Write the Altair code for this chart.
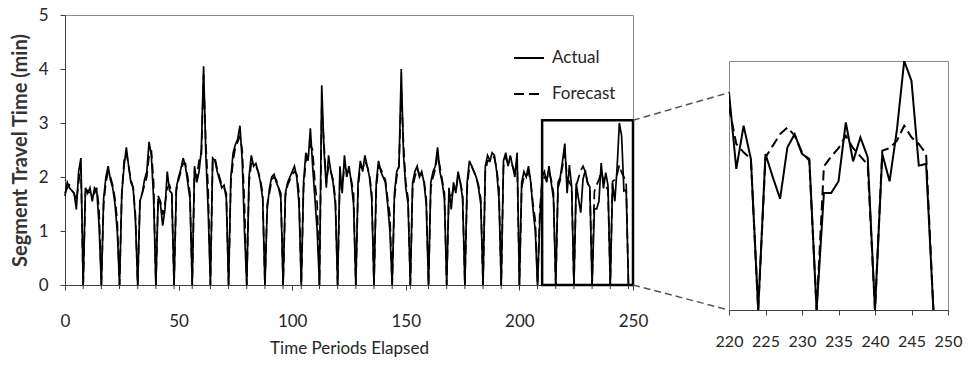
import altair as alt
import pandas as pd

# ---------------- data ----------------
periods = list(range(249))

actual = [
    1.65, 1.9, 1.8, 1.75, 1.7, 1.4, 2.1, 2.35,
    0, 1.8, 1.7, 1.8, 1.55, 1.8, 1.75, 1.1,
    0, 1.6, 2.0, 2.2, 1.95, 1.8, 1.5, 1.0,
    0, 1.7, 2.2, 2.55, 2.2, 1.9, 1.8, 1.2,
    0, 1.55, 1.7, 1.95, 2.1, 2.65, 2.4, 1.6,
    0, 1.6, 1.5, 1.1, 1.4, 2.1, 1.75, 1.7,
    0, 1.8, 2.0, 2.15, 2.35, 2.2, 1.9, 1.6,
    0, 2.2, 1.9, 2.1, 2.5, 4.05, 2.4, 1.4,
    0, 2.35, 2.3, 2.1, 1.95, 1.8, 1.85, 1.6,
    0, 2.0, 2.45, 2.6, 2.7, 2.95, 2.3, 1.0,
    0, 2.0, 2.4, 2.2, 2.25, 2.1, 1.9, 1.6,
    0, 1.4, 1.8, 2.0, 2.05, 1.9, 1.8, 1.6,
    0, 1.7, 1.9, 2.0, 2.1, 2.2, 2.0, 1.5,
    0, 1.9, 2.45, 2.3, 2.9, 2.2, 1.6, 1.0,
    0, 3.7, 2.5, 1.8, 2.4, 2.1, 1.9, 1.5,
    0, 2.2, 1.7, 2.4, 2.0, 2.2, 1.9, 1.5,
    0, 1.9, 2.3, 2.1, 2.4, 2.2, 2.0, 1.6,
    0, 1.9, 2.3, 2.1, 2.0, 1.9, 1.5, 1.0,
    0, 1.7, 2.1, 2.2, 4.0, 2.4, 1.8, 1.5,
    0, 1.9, 2.1, 2.2, 2.0, 2.1, 1.9, 1.5,
    0, 1.9, 2.1, 2.2, 2.55, 2.1, 1.9, 1.6,
    0, 1.8, 1.4, 1.9, 1.7, 2.1, 1.9, 1.6,
    0, 1.9, 2.3, 2.2, 2.1, 2.0, 1.8, 1.5,
    0, 2.2, 2.4, 2.3, 2.45, 2.4, 2.1, 1.6,
    0, 2.3, 2.45, 2.2, 2.4, 2.2, 2.0, 2.45,
    0, 1.9, 2.1, 2.0, 2.2, 1.9, 1.4, 1.0,
    0, 1.2, 2.0, 2.1, 1.9, 2.2, 1.9, 1.6,
    0, 1.9, 2.0, 2.3, 2.62, 1.7, 2.22, 1.82,
    0, 1.88, 1.6, 1.34, 1.96, 2.12, 1.88, 1.82,
    0, 1.41, 1.41, 1.55, 2.26, 1.79, 2.08, 1.84,
    0, 1.88, 1.55, 2.17, 3.0, 2.76, 1.74, 1.76,
    0,
]

forecast = [
    1.7, 1.8, 1.85, 1.75, 1.7, 1.55, 1.9, 2.2,
    0, 1.7, 1.75, 1.7, 1.65, 1.7, 1.8, 1.4,
    0, 1.5, 1.9, 2.1, 2.0, 1.85, 1.6, 1.2,
    0, 1.7, 2.3, 2.45, 2.2, 1.95, 1.8, 1.3,
    0, 1.6, 1.7, 1.85, 2.0, 2.4, 2.5, 1.9,
    0, 1.65, 1.55, 1.3, 1.5, 1.8, 1.85, 1.7,
    0, 1.75, 1.95, 2.1, 2.25, 2.25, 2.0, 1.7,
    0, 2.1, 2.0, 2.3, 2.4, 3.9, 2.6, 1.8,
    0, 2.3, 2.35, 2.15, 2.0, 1.85, 1.8, 1.7,
    0, 1.9, 2.3, 2.55, 2.65, 2.75, 2.5, 1.5,
    0, 1.9, 2.25, 2.25, 2.2, 2.1, 1.95, 1.7,
    0, 1.5, 1.7, 1.95, 2.0, 1.95, 1.8, 1.7,
    0, 1.65, 1.85, 1.95, 2.05, 2.1, 2.05, 1.7,
    0, 1.8, 2.3, 2.4, 2.6, 2.5, 1.9, 1.5,
    0, 3.3, 2.6, 1.9, 2.2, 2.1, 1.95, 1.6,
    0, 2.0, 1.8, 2.2, 2.1, 2.1, 1.95, 1.7,
    0, 1.8, 2.2, 2.15, 2.3, 2.2, 2.05, 1.7,
    0, 1.8, 2.2, 2.15, 2.05, 1.95, 1.6, 1.3,
    0, 1.6, 2.0, 2.2, 3.6, 2.6, 1.9, 1.6,
    0, 1.8, 2.0, 2.15, 2.05, 2.05, 1.95, 1.6,
    0, 1.8, 2.0, 2.15, 2.4, 2.2, 1.95, 1.7,
    0, 1.7, 1.6, 1.8, 1.75, 2.0, 1.9, 1.7,
    0, 1.8, 2.2, 2.2, 2.1, 2.0, 1.85, 1.6,
    0, 2.1, 2.3, 2.3, 2.4, 2.35, 2.15, 1.8,
    0, 2.2, 2.35, 2.25, 2.3, 2.2, 2.1, 2.3,
    0, 1.8, 2.0, 2.0, 2.1, 1.9, 1.5, 1.2,
    0, 1.4, 1.9, 2.0, 1.95, 2.1, 1.95, 1.7,
    0, 1.8, 1.95, 2.2, 2.45, 2.0, 1.9, 1.82,
    0, 1.84, 1.98, 2.12, 2.2, 2.1, 1.9, 1.8,
    0, 1.73, 1.85, 1.95, 2.1, 1.95, 1.85, 1.75,
    0, 1.92, 1.95, 2.04, 2.22, 2.08, 2.0, 1.88,
    0,
]

series_names = ["Actual", "Forecast"]
x_ticks_main = [0, 50, 100, 150, 200, 250]
y_ticks_main = [0, 1, 2, 3, 4, 5]
x_ticks_inset = [220, 225, 230, 235, 240, 245, 250]
main_x_domain = [0, 250]
main_y_domain = [0, 5]
inset_x_domain = [220, 250]
inset_y_domain = [0, 3]
zoom_box_x = [210, 250]
zoom_box_y = [0, 3.05]

# ---------------- layout / style ----------------
MAIN_W, MAIN_H = 568, 270
INSET_W, INSET_H = 219, 249
INSET_DROP = 46
GAP = 96
FONT = "Lato"
TXT = "#262626"

df = pd.DataFrame({
    "t": periods + periods,
    "value": actual + forecast,
    "series": ["Actual"] * len(periods) + ["Forecast"] * len(periods),
})
df_inset = df[df["t"] >= inset_x_domain[0]]

dash_scale = alt.Scale(domain=series_names, range=[[1, 0], [10, 5]])

# connector end points (main-panel data coordinates of the inset's left edge)
px_per_x = MAIN_W / (main_x_domain[1] - main_x_domain[0])
x_end = main_x_domain[1] + GAP / px_per_x
start_val = actual[inset_x_domain[0]]


def inset_val_to_main(v):
    ypix = INSET_DROP + INSET_H * (1 - (v - inset_y_domain[0]) / (inset_y_domain[1] - inset_y_domain[0]))
    return main_y_domain[1] * (1 - ypix / MAIN_H)


conn_df = pd.DataFrame({
    "t": [zoom_box_x[1], zoom_box_x[1]],
    "value": [zoom_box_y[1], zoom_box_y[0]],
    "t2": [x_end, x_end],
    "value2": [inset_val_to_main(start_val), inset_val_to_main(inset_y_domain[0])],
})
box_df = pd.DataFrame({"t": [zoom_box_x[0]], "t2": [zoom_box_x[1]],
                       "value": [zoom_box_y[0]], "value2": [zoom_box_y[1]]})
zero_df = pd.DataFrame({"t": [t for t, v in zip(periods, actual) if v == 0]})

x_main = alt.X("t:Q", scale=alt.Scale(domain=main_x_domain, nice=False),
               axis=alt.Axis(values=x_ticks_main, title="Time Periods Elapsed",
                             titleFontSize=17, titleFontWeight="normal", titleColor=TXT,
                             titlePadding=11, labelFontSize=17, labelColor=TXT,
                             labelPadding=23, tickSize=5, labelFlush=False,
                             labelOverlap=False, grid=False))
y_main = alt.Y("value:Q", scale=alt.Scale(domain=main_y_domain, nice=False),
               axis=alt.Axis(values=y_ticks_main, title="Segment Travel Time (min)",
                             titleFontSize=20, titleFontWeight="bold", titleColor="#333333",
                             titlePadding=8, labelFontSize=17, labelColor=TXT,
                             labelPadding=12, tickSize=5, grid=False))

lines = alt.Chart(df).mark_line(color="black", strokeWidth=1.7).encode(
    x=x_main,
    y=y_main,
    strokeDash=alt.StrokeDash(
        "series:N", scale=dash_scale,
        legend=alt.Legend(title=None, orient="none", legendX=448, legendY=27,
                          symbolType="stroke", symbolSize=900, symbolStrokeWidth=2,
                          symbolStrokeColor="black", labelFont=FONT, labelFontSize=17,
                          labelColor=TXT, labelOffset=7, rowPadding=12, padding=0)),
    detail="series:N",
)

box = alt.Chart(box_df).mark_rect(fillOpacity=0, stroke="black", strokeWidth=2.5).encode(
    x="t:Q", x2="t2", y="value:Q", y2="value2")

conn = alt.Chart(conn_df).mark_rule(color="#555555", strokeWidth=1.5, strokeDash=[7, 4]).encode(
    x="t:Q", x2="t2", y="value:Q", y2="value2")

zero_ticks = alt.Chart(zero_df).mark_rule(color="#333333", strokeWidth=1).encode(
    x="t:Q", y=alt.value(MAIN_H), y2=alt.value(MAIN_H + 4))

main = alt.layer(lines, box, conn, zero_ticks).properties(width=MAIN_W, height=MAIN_H)

inset = alt.Chart(df_inset).mark_line(color="black", strokeWidth=2, clip=True).encode(
    x=alt.X("t:Q", scale=alt.Scale(domain=inset_x_domain, nice=False),
            axis=alt.Axis(values=x_ticks_inset, title=None, labelFontSize=16,
                          labelColor=TXT, labelPadding=18, tickSize=5,
                          labelFlush=False, labelOverlap=False, grid=False)),
    y=alt.Y("value:Q", scale=alt.Scale(domain=inset_y_domain, nice=False), axis=None),
    strokeDash=alt.StrokeDash("series:N", scale=dash_scale, legend=None),
    detail="series:N",
).properties(width=INSET_W, height=INSET_H)

spacer = alt.Chart(pd.DataFrame({"v": [0]})).mark_text(text="").encode(
    x=alt.value(0), y=alt.value(0)
).properties(width=INSET_W, height=INSET_DROP,
             view=alt.ViewBackground(stroke="transparent"))

right_col = alt.vconcat(spacer, inset, spacing=0, bounds="flush")

chart = alt.hconcat(main, right_col, spacing=GAP, bounds="flush").resolve_scale(
    strokeDash="independent"
).resolve_legend(strokeDash="independent").configure_view(
    stroke="#8a8a8a", strokeWidth=1
).configure_axis(
    domainColor="#404040", tickColor="#404040", labelFont=FONT, titleFont=FONT
).properties(
    padding={"left": 9, "top": 5, "right": 5, "bottom": 5}, background="white"
)

chart.save("out.html", embed_options={"renderer": "svg", "actions": False})
